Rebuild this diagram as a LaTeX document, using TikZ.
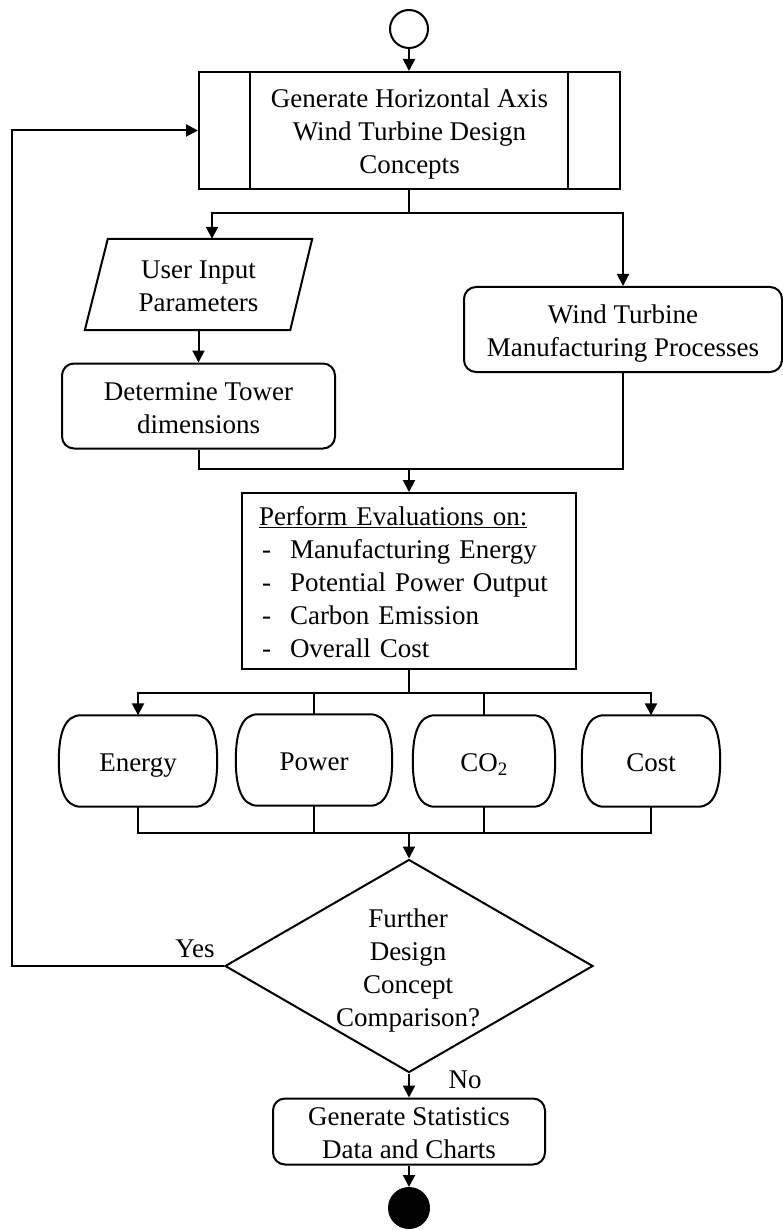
\documentclass[tikz,border=0pt]{standalone}
\usepackage{fontspec}
\setmainfont{Liberation Serif}
\usetikzlibrary{arrows.meta,shapes.geometric,calc}
\newcommand\ls{\rule[-6pt]{0pt}{33pt}}
\newcommand\barrelpath[1]{%
 \draw[line] ($(#1.north east)+(-22,0)$) .. controls ($(#1.north east)+(-6,0)$) and ($(#1.east)+(0,-28)$) .. (#1.east)
  .. controls ($(#1.east)+(0,28)$) and ($(#1.south east)+(-6,0)$) .. ($(#1.south east)+(-22,0)$)
  -- ($(#1.south west)+(22,0)$) .. controls ($(#1.south west)+(6,0)$) and ($(#1.west)+(0,28)$) .. (#1.west)
  .. controls ($(#1.west)+(0,-28)$) and ($(#1.north west)+(6,0)$) .. ($(#1.north west)+(22,0)$) -- cycle;}
\begin{document}
\begin{tikzpicture}[x=1pt,y=-1pt,
  every node/.style={font=\fontsize{27}{33}\selectfont},
  line/.style={line width=2pt},
  arr/.style={line width=2pt,-{Triangle[length=12pt,width=12pt]}},
  box/.style={draw,line width=2pt,align=center,inner sep=1pt},
  rbox/.style={box,rounded corners=12pt},
  term/.style={minimum width=#1,minimum height=91pt,inner sep=0pt},
  ]
\useasboundingbox (0,0) rectangle (783,1230);

% start / end
\node[draw,line width=2pt,circle,minimum size=38pt,inner sep=0pt] (start) at (409,29) {};
\node[draw,line width=2pt,circle,fill=black,minimum size=40pt,inner sep=0pt] (stop) at (409,1208) {};

% top predefined process
\node[box,minimum width=421pt,minimum height=117pt] (top) at (409.5,130.5)
  {\ls Generate Horizontal Axis\\\ls Wind Turbine Design\\\ls Concepts};
\draw[line] ([xshift=52pt]top.north west) -- ([xshift=52pt]top.south west);
\draw[line] ([xshift=-53pt]top.north east) -- ([xshift=-53pt]top.south east);

% user input parallelogram
\node[minimum width=227pt,minimum height=91pt,inner sep=0pt,align=center] (uip) at (198.5,284.5)
  {\ls User Input\\\ls Parameters};
\draw[line] ($(uip.north west)+(23,0)$) -- (uip.north east) -- ($(uip.south east)+(-22,0)$) -- (uip.south west) -- cycle;

\node[rbox,minimum width=273pt,minimum height=85pt] (det) at (198.5,406) {\ls Determine Tower\\\ls dimensions};
\node[rbox,minimum width=318pt,minimum height=85pt] (wt) at (623,329.5) {\ls Wind Turbine\\\ls Manufacturing Processes};

\node[box,minimum width=334pt,minimum height=176pt,align=left,text width=300pt,inner xsep=17pt] (perf) at (409,581)
  {\ls\underline{Perform Evaluations on:}\\
   \ls\makebox[31pt][l]{\hspace{3pt}-}Manufacturing Energy\\
   \ls\makebox[31pt][l]{\hspace{3pt}-}Potential Power Output\\
   \ls\makebox[31pt][l]{\hspace{3pt}-}Carbon Emission\\
   \ls\makebox[31pt][l]{\hspace{3pt}-}Overall Cost};

% terminators
\node[term=158pt] (en) at (138,761) {\ls Energy};
\node[term=156pt] (po) at (314,760) {\ls Power};
\node[term=142pt] (co) at (484,761) {\ls CO\textsubscript{2}};
\node[term=138pt] (cs) at (651,761) {\ls Cost};
\barrelpath{en}\barrelpath{po}\barrelpath{co}\barrelpath{cs}

% decision
\node[draw,line width=2pt,diamond,minimum width=368pt,minimum height=213pt,inner sep=0pt] (dec) at (409,966) {};
\node[align=center,inner sep=0pt] (dectext) at (408,966) {\ls Further\\\ls Design\\\ls Concept\\\ls Comparison?};
\node[inner sep=0pt] (yes) at (195,947) {\ls Yes};
\node[inner sep=0pt] (no) at (465,1077.5) {\ls No};

\node[rbox,minimum width=272pt,minimum height=65pt,inner sep=0pt] (fin) at (409,1131.5) {\ls Generate Statistics\\\ls Data and Charts};

% coordinates
\coordinate (br) at (409,213);
\coordinate (mg) at (409,469);
\coordinate (ds) at (409,693);
\coordinate (cl) at (409,833);
\coordinate (lp) at (12,966);

% connectors
\draw[arr] (start) -- (top.north -| start);
\draw[line] (top.south -| br) -- (br);
\draw[arr] (br) -| ([xshift=13.5pt]uip.north);
\draw[arr] (br) -| (wt.north);
\draw[arr] (uip.south) -- (det.north);
\draw[line] (det.south) |- (mg);
\draw[line] (wt.south) |- (mg);
\draw[arr] (mg) -- (perf.north -| mg);
\draw[line] (perf.south -| ds) -- (ds);
\draw[arr] (ds) -| (en.north);
\draw[arr] (ds) -| (cs.north);
\draw[line] (po.north |- ds) -- (po.north);
\draw[line] (co.north |- ds) -- (co.north);
\draw[line] (en.south) |- (cl);
\draw[line] (cs.south) |- (cl);
\draw[line] (po.south) -- (po.south |- cl);
\draw[line] (co.south) -- (co.south |- cl);
\draw[arr] (cl) -- (dec.north);
\draw[arr] (dec.west) -- (lp) |- (top.west);
\draw[arr] (dec.south) -- (fin.north -| dec.south);
\draw[arr] (fin.south -| stop) -- (stop.north);
\end{tikzpicture}
\end{document}
